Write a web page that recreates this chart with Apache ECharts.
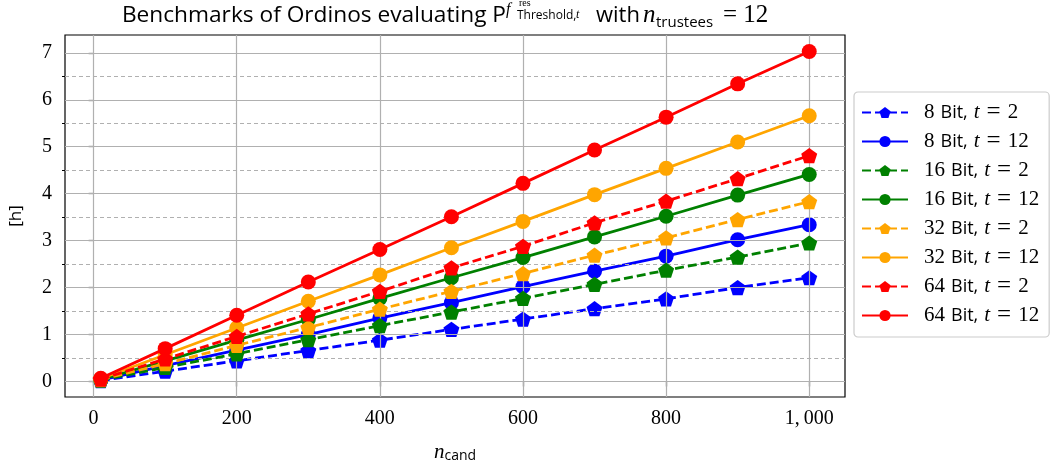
<!DOCTYPE html>
<html>
<head>
<meta charset="utf-8">
<title>Ordinos benchmarks</title>
<script src="https://cdn.jsdelivr.net/npm/echarts@6/dist/echarts.min.js"></script>
<style>
  html, body { margin: 0; padding: 0; background: #fff; }
  #chart { width: 1059px; height: 470px; }
</style>
</head>
<body>
<div id="chart"></div>
<script>
// x values (n_cand)
const nCand = [10, 100, 200, 300, 400, 500, 600, 700, 800, 900, 1000];

// hours
const bit8t2   = [0.02, 0.22, 0.44, 0.66, 0.88, 1.11, 1.33, 1.55, 1.76, 2.00, 2.21];
const bit8t12  = [0.03, 0.34, 0.67, 1.00, 1.35, 1.68, 2.02, 2.35, 2.67, 3.02, 3.34];
const bit16t2  = [0.03, 0.30, 0.59, 0.89, 1.19, 1.48, 1.77, 2.07, 2.37, 2.65, 2.95];
const bit16t12 = [0.04, 0.44, 0.88, 1.32, 1.77, 2.21, 2.64, 3.08, 3.52, 3.97, 4.41];
const bit32t2  = [0.04, 0.38, 0.77, 1.15, 1.54, 1.92, 2.30, 2.69, 3.06, 3.45, 3.83];
const bit32t12 = [0.06, 0.57, 1.14, 1.71, 2.27, 2.85, 3.41, 3.98, 4.54, 5.10, 5.66];
const bit64t2  = [0.05, 0.48, 0.96, 1.44, 1.92, 2.42, 2.88, 3.38, 3.84, 4.32, 4.81];
const bit64t12 = [0.07, 0.70, 1.41, 2.12, 2.81, 3.51, 4.22, 4.93, 5.63, 6.34, 7.03];

const seriesNames = ['8 Bit, t = 2', '8 Bit, t = 12', '16 Bit, t = 2', '16 Bit, t = 12',
                     '32 Bit, t = 2', '32 Bit, t = 12', '64 Bit, t = 2', '64 Bit, t = 12'];
const seriesData = [bit8t2, bit8t12, bit16t2, bit16t12, bit32t2, bit32t12, bit64t2, bit64t12];

// tick labels
const xTicks = [0, 200, 400, 600, 800, 1000];
const yTicks = [0, 1, 2, 3, 4, 5, 6, 7];
const yMinorTicks = [0.5, 1.5, 2.5, 3.5, 4.5, 5.5, 6.5];

const colors = ['#0000ff', '#0000ff', '#008000', '#008000', '#ffa500', '#ffa500', '#ff0000', '#ff0000'];
const pentagon = 'path://M0,-1L0.951,-0.309L0.588,0.809L-0.588,0.809L-0.951,-0.309Z';
const serif = 'Liberation Serif';
const sans = 'Open Sans';

const chart = echarts.init(document.getElementById('chart'));

let series = seriesData.map((vals, i) => {
  const dashed = i % 2 === 0;
  return {
    name: seriesNames[i],
    type: 'line',
    z: 3 + i,
    data: nCand.map((n, k) => [n, vals[k]]),
    symbol: dashed ? pentagon : 'circle',
    symbolKeepAspect: true,
    symbolSize: dashed ? 16 : 15,
    showAllSymbol: true,
    color: colors[i],
    itemStyle: { color: colors[i] },
    lineStyle: { color: colors[i], width: 2.8, type: dashed ? [9, 4] : 'solid' },
    emphasis: { disabled: true },
    animation: false
  };
});

// grid lines (solid at integers, dashed at halves)
series.push({
  type: 'line',
  data: [],
  z: 1,
  silent: true,
  markLine: {
    silent: true,
    symbol: ['none', 'none'],
    label: { show: false },
    animation: false,
    data: yTicks.map(v => ({ yAxis: v, lineStyle: { color: '#b0b0b0', width: 1.2, type: 'solid' } }))
      .concat(yMinorTicks.map(v => ({ yAxis: v, lineStyle: { color: '#b0b0b0', width: 1.2, type: [4, 3] } })))
      .concat(xTicks.map(v => ({ xAxis: v, lineStyle: { color: '#b0b0b0', width: 1.2, type: 'solid' } })))
  }
});

// title pieces (math typeset by hand); base is the baseline
function txt(x, base, text, font, size, italic, align) {
  return {
    type: 'text', x: x, y: base - 0.82 * size, silent: true,
    style: {
      text: text, fill: '#000', fontFamily: font, fontSize: size,
      fontStyle: italic ? 'italic' : 'normal', fontWeight: 'normal',
      align: align || 'left', verticalAlign: 'top'
    }
  };
}

const option = {
  animation: false,
  backgroundColor: '#fff',
  graphic: [
    txt(506, 23, 'Benchmarks of Ordinos evaluating P', sans, 22.7, false, 'right'),
    txt(506, 15, 'f', serif, 16, true),
    txt(519, 7, 'res', serif, 10, false),
    txt(517, 19, 'Threshold,', sans, 12, false),
    txt(576, 19, 't', serif, 12, true),
    txt(596, 23, 'with', sans, 22, false),
    txt(643, 23, 'n', serif, 25, true),
    txt(656, 28, 'trustees', sans, 15, false),
    txt(723, 23, '= 12', serif, 25, false)
  ],
  legend: {
    left: 854,
    top: 92,
    orient: 'vertical',
    itemWidth: 46,
    itemHeight: 14,
    itemGap: 4,
    padding: [8, 10, 9, 7],
    borderColor: '#cccccc',
    borderWidth: 1.2,
    borderRadius: 4,
    backgroundColor: '#fff',
    data: seriesNames,
    formatter: name => {
      const p = name.split(' ');
      return '{g|}{n|' + p[0] + '}{s|Bit,}{i|t}{e|=}{n|' + p[4] + '}';
    },
    textStyle: {
      rich: {
        g: { width: 11, lineHeight: 20 },
        n: { fontFamily: serif, fontSize: 21, color: '#000', lineHeight: 20 },
        s: { fontFamily: sans, fontSize: 18, color: '#000', lineHeight: 20, padding: [0, 6, 0, 6] },
        i: { fontFamily: serif, fontStyle: 'italic', fontSize: 21, color: '#000', lineHeight: 20 },
        e: { fontFamily: serif, fontSize: 25, color: '#000', lineHeight: 20, padding: [0, 7, 0, 7] }
      }
    }
  },
  grid: {
    left: 65,
    top: 35,
    width: 780,
    height: 362,
    show: true,
    borderColor: '#000',
    borderWidth: 1.2,
    backgroundColor: 'transparent'
  },
  xAxis: {
    type: 'value',
    min: -40,
    max: 1050,
    name: '{i|n}{s|cand}',
    nameLocation: 'middle',
    nameGap: 44,
    nameTextStyle: {
      rich: {
        i: { fontFamily: serif, fontStyle: 'italic', fontSize: 21, color: '#000' },
        s: { fontFamily: sans, fontSize: 14, color: '#000', padding: [8, 0, 0, 0] }
      }
    },
    axisLine: { show: false },
    splitLine: { show: false },
    axisTick: { show: true, customValues: xTicks, length: 5, lineStyle: { color: '#000', width: 1.2 } },
    axisLabel: {
      customValues: xTicks,
      margin: 12,
      fontFamily: serif,
      fontSize: 20,
      color: '#000',
      formatter: v => (v === 1000 ? '1,\u2009000' : String(v))
    }
  },
  yAxis: [{
    type: 'value',
    min: -0.33,
    max: 7.38,
    name: '[h]',
    nameLocation: 'middle',
    nameGap: 40,
    nameRotate: 90,
    nameTextStyle: { fontFamily: sans, fontSize: 17, color: '#000' },
    axisLine: { show: false },
    splitLine: { show: false },
    axisTick: { show: true, customValues: yTicks, length: 5, lineStyle: { color: '#000', width: 1.2 } },
    axisLabel: { customValues: yTicks, margin: 13, fontFamily: serif, fontSize: 20, color: '#000' }
  }, {
    type: 'value',
    min: -0.33,
    max: 7.38,
    position: 'left',
    axisLine: { show: false },
    splitLine: { show: false },
    axisTick: { show: true, customValues: yMinorTicks, length: 3, lineStyle: { color: '#000', width: 1 } },
    axisLabel: { show: false }
  }],
  series: series
};

chart.setOption(option);
</script>
</body>
</html>
